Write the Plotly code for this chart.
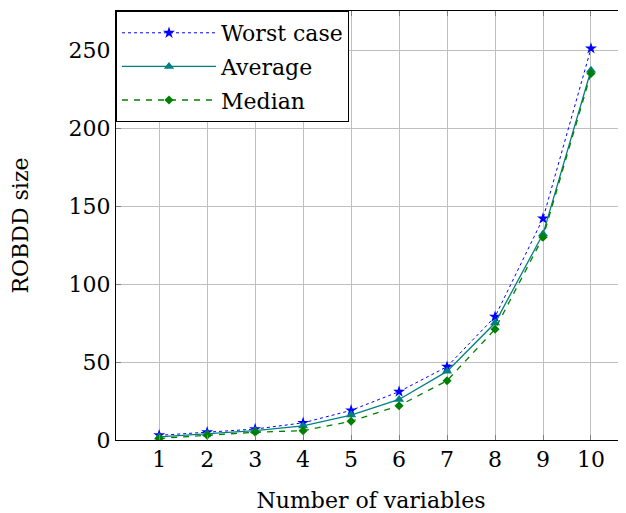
import plotly.graph_objects as go

n_vars = [1, 2, 3, 4, 5, 6, 7, 8, 9, 10]
worst_case = [3, 5, 7, 11, 19, 31, 47, 79, 142, 251]
average = [2, 4, 6, 9, 16, 26, 44, 75, 132, 237]
median = [1, 3, 5, 6, 12, 22, 38, 71, 130, 235]

x_ticks = [1, 2, 3, 4, 5, 6, 7, 8, 9, 10]
y_ticks = [0, 50, 100, 150, 200, 250]

FONT = "DejaVu Serif"
FS = 22

fig = go.Figure()
fig.add_trace(go.Scatter(
    x=n_vars, y=worst_case, name="Worst case", mode="lines+markers", legendgroup="a",
    line=dict(color="#0000ff", width=1, dash="dot"),
    marker=dict(symbol="star", size=9, color="#0000ff"),
))
fig.add_trace(go.Scatter(
    x=n_vars, y=average, name="Average", mode="lines+markers", legendgroup="b",
    line=dict(color="#008080", width=1.3),
    marker=dict(symbol="triangle-up", size=9, color="#008080"),
))
fig.add_trace(go.Scatter(
    x=n_vars, y=median, name="Median", mode="lines+markers", legendgroup="c",
    line=dict(color="#008000", width=1.3, dash="6px,6px"),
    marker=dict(symbol="diamond", size=7, color="#008000"),
))

fig.update_layout(
    width=618, height=505,
    margin=dict(l=108, r=0, t=3, b=73, autoexpand=False),
    paper_bgcolor="white", plot_bgcolor="white",
    font=dict(family=FONT, size=FS, color="black"),
    showlegend=True,
    legend=dict(
        x=0, y=1, xanchor="left", yanchor="top",
        bgcolor="white", bordercolor="black", borderwidth=1,
        font=dict(family=FONT, size=FS),
        tracegroupgap=2, itemwidth=94,
    ),
    xaxis=dict(
        range=[0.1, 10.73], tickvals=x_ticks, ticktext=[str(v) for v in x_ticks],
        showgrid=True, gridcolor="#bfbfbf", gridwidth=1,
        showline=True, linecolor="black", linewidth=1, mirror="ticks",
        ticks="inside", ticklen=5, tickcolor="#808080",
        zeroline=False, automargin=False,
        title=dict(text="Number of variables", font=dict(family=FONT, size=FS), standoff=21),
    ),
    yaxis=dict(
        range=[0, 275], tickvals=y_ticks, ticktext=[str(v) for v in y_ticks],
        showgrid=True, gridcolor="#bfbfbf", gridwidth=1,
        showline=True, linecolor="black", linewidth=1, mirror=False,
        ticks="inside", ticklen=5, tickcolor="#808080",
        zeroline=False, automargin=False,
        title=dict(text="ROBDD size", font=dict(family=FONT, size=FS), standoff=43),
    ),
)

fig.write_html("out.html")
